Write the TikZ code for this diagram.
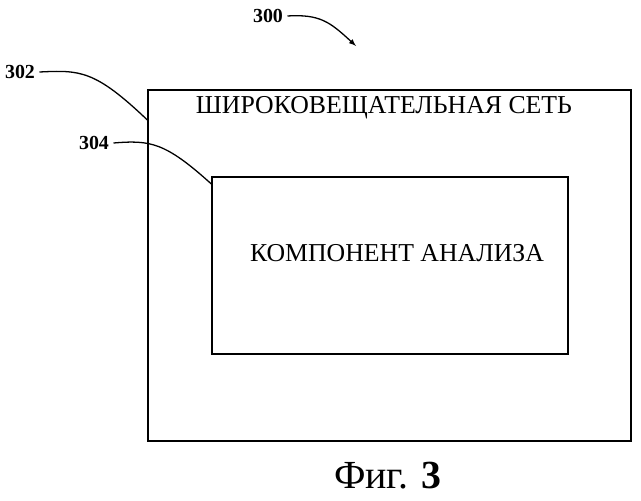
\documentclass[tikz,border=0pt]{standalone}
\usepackage{fontspec}
\setmainfont{Liberation Serif}
\begin{document}
\begin{tikzpicture}[x=0.03cm,y=-0.03cm, every node/.style={font=\fontsize{22}{26}\selectfont}, line width=1.1pt]
    \useasboundingbox (0,0) rectangle (641,500);
    % === boxes ===
    \node[draw,minimum width=483*0.03cm,minimum height=351*0.03cm] (net) at (389.5,265.5) {};
    \node[draw,minimum width=356*0.03cm,minimum height=177*0.03cm] (comp) at (390,265.5) {};
    \node (nettext) at (384,108) {ШИРОКОВЕЩАТЕЛЬНАЯ СЕТЬ};
    \node (comptext) at (397,253) {КОМПОНЕНТ АНАЛИЗА};
    % === reference labels ===
    \node[font=\bfseries\fontsize{17}{20}\selectfont] (l300) at (268,16) {300};
    \node[font=\bfseries\fontsize{17}{20}\selectfont] (l302) at (20,72) {302};
    \node[font=\bfseries\fontsize{17}{20}\selectfont] (l304) at (94,143) {304};
    \coordinate (a300) at (356,46);
    \draw[-latex] (l300.east) .. controls (320,14) and (330,22) .. (a300);
    \draw (l302.east) .. controls (80,70) and (95,70) .. (net.north west |- 0,120);
    \draw (l304.east) .. controls (150,140) and (165,142) .. (comp.north west |- 0,184);
    \node[font=\fontsize{34}{38}\selectfont] (fig) at (388,476) {Фиг. \textbf{3}};
\end{tikzpicture}
\end{document}
